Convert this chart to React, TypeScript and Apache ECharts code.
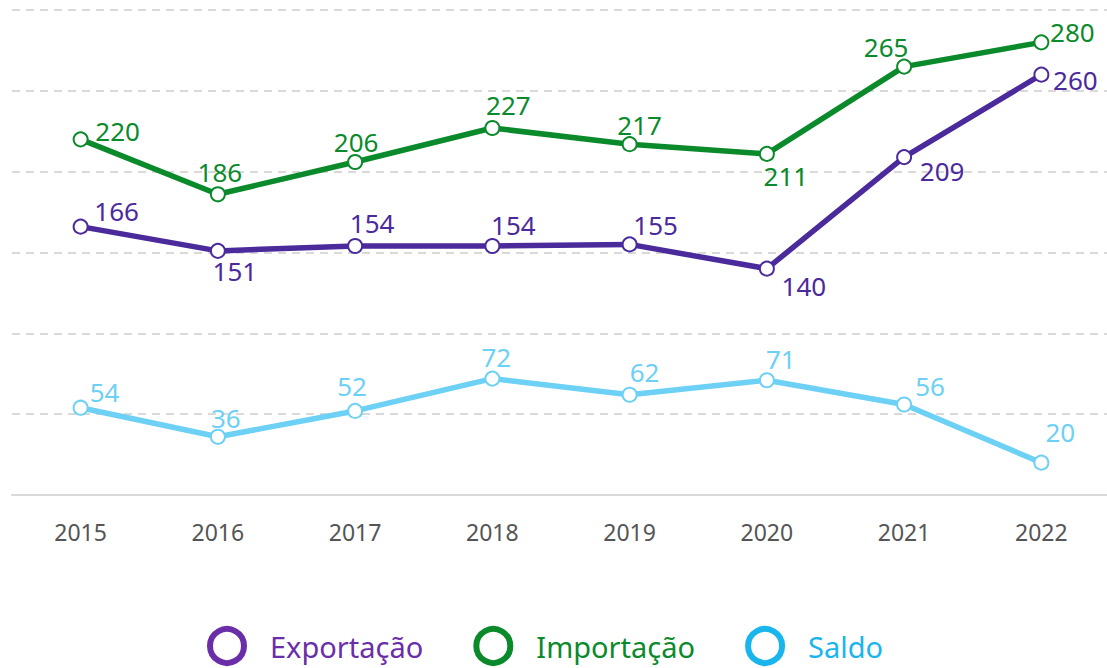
import React, { useEffect, useRef } from "react";
import * as echarts from "echarts";

const years = ["2015", "2016", "2017", "2018", "2019", "2020", "2021", "2022"];
const exportacao = [166, 151, 154, 154, 155, 140, 209, 260];
const importacao = [220, 186, 206, 227, 217, 211, 265, 280];
const saldo = [54, 36, 52, 72, 62, 71, 56, 20];

// label offsets (layout only), relative to each point
const impOffsets = [[37, -8], [2, -22], [1, -20], [16, -23], [10, -19], [19, 22], [-18, -20], [31, -10]];
const expOffsets = [[36, -16], [17, 20], [17, -23], [21, -21], [26, -19], [37, 17], [38, 14], [34, 5]];
const salOffsets = [[24, -16], [8, -19], [-3, -25], [4, -22], [15, -23], [14, -21], [26, -18], [19, -31]];

const FONT = "'Noto Sans', 'Open Sans', sans-serif";

function mkData(vals: number[], offs: number[][]) {
  return vals.map((v, i) => ({
    value: v,
    label: { offset: offs[i] },
  }));
}

function mkSeries(name: string, vals: number[], offs: number[][], color: string) {
  return {
    name,
    type: "line",
    data: mkData(vals, offs),
    symbol: "circle",
    symbolSize: 14,
    showAllSymbol: true,
    lineStyle: { color, width: 5.5 },
    itemStyle: { color: "#ffffff", borderColor: color, borderWidth: 2 },
    label: {
      show: true,
      position: "inside",
      color,
      fontSize: 26,
      fontFamily: FONT,
    },
    z: 3,
  };
}

export default function App() {
  const ref = useRef<HTMLDivElement>(null);
  useEffect(() => {
    if (!ref.current) return;
    const chart = echarts.init(ref.current, undefined, { renderer: "svg" });
    chart.setOption({
      animation: false,
      backgroundColor: "#ffffff",
      grid: { left: 12, top: 10, width: 1098, height: 485, containLabel: false },
      xAxis: {
        type: "category",
        data: years,
        boundaryGap: true,
        axisLine: { show: true, lineStyle: { color: "#d9d9d9", width: 2 } },
        axisTick: { show: false },
        axisLabel: { color: "#555555", fontSize: 23, fontFamily: FONT, margin: 25 },
      },
      yAxis: {
        type: "value",
        min: 0,
        max: 300,
        interval: 50,
        axisLabel: { show: false },
        axisLine: { show: false },
        axisTick: { show: false },
        splitLine: { show: true, lineStyle: { color: "#d9d9d9", width: 2, type: [8, 6] } },
      },
      legend: {
        left: 202,
        top: 621,
        itemWidth: 34,
        itemHeight: 34,
        itemGap: 50,
        textStyle: { fontSize: 29, fontFamily: FONT, padding: [0, 0, 0, 21] },
        data: [
          { name: "Exportação", icon: "circle", itemStyle: { color: "#ffffff", borderColor: "#6A2FA8", borderWidth: 6 }, textStyle: { color: "#6A2FA8" } },
          { name: "Importação", icon: "circle", itemStyle: { color: "#ffffff", borderColor: "#0A8A2A", borderWidth: 6 }, textStyle: { color: "#0A8A2A" } },
          { name: "Saldo", icon: "circle", itemStyle: { color: "#ffffff", borderColor: "#1BB5EE", borderWidth: 6 }, textStyle: { color: "#1BB5EE" } },
        ],
      },
      series: [
        mkSeries("Exportação", exportacao, expOffsets, "#4B2A9C"),
        mkSeries("Importação", importacao, impOffsets, "#0A8A2A"),
        mkSeries("Saldo", saldo, salOffsets, "#6DD0F5"),
      ],
    });
    return () => chart.dispose();
  }, []);
  return (
    <div style={{ position: "absolute", left: 0, top: 0, width: 1107, height: 668, overflow: "hidden" }}>
      <div ref={ref} style={{ width: 1112, height: 668 }} />
    </div>
  );
}
